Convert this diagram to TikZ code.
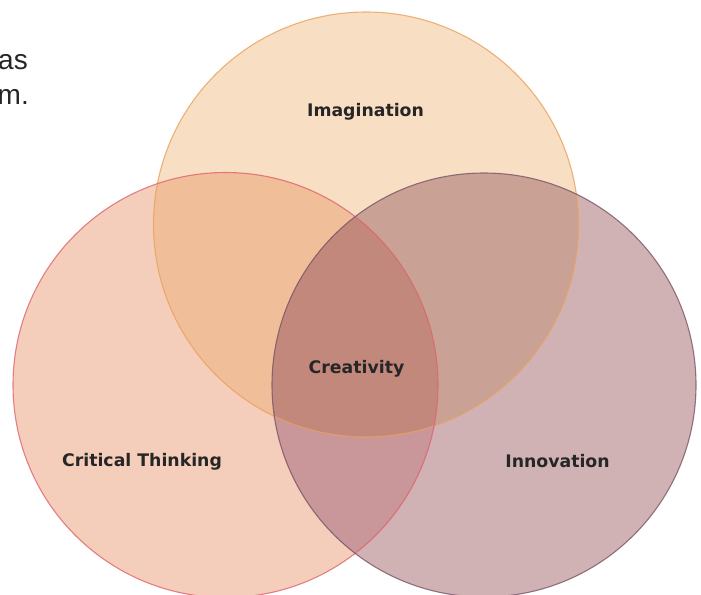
\documentclass[tikz,border=0pt]{standalone}
\usepackage{fontspec}
\setmainfont{Liberation Sans}
\newfontfamily\labelfont{DejaVu Sans}
\definecolor{imgfill}{HTML}{F8DFC3}
\definecolor{imgline}{HTML}{E9A15F}
\definecolor{critfill}{HTML}{F4CEBB}
\definecolor{critline}{HTML}{E0636E}
\definecolor{innofill}{HTML}{D0B2B5}
\definecolor{innoline}{HTML}{7A5566}
\definecolor{ciover}{HTML}{F0BE98}
\definecolor{inover}{HTML}{C9A295}
\definecolor{cnover}{HTML}{C99699}
\definecolor{allover}{HTML}{C2887C}
\definecolor{labelgray}{HTML}{262626}
\newcommand\imgdisc{(366,224.5) circle[radius=212.5]}
\newcommand\critdisc{(225.5,385) circle[radius=212.5]}
\newcommand\innodisc{(484,385) circle[radius=212]}
\tikzset{
  venntext/.style={font=\labelfont\bfseries\fontsize{17.3}{20}\selectfont, text=labelgray, anchor=base, inner sep=0pt},
  bodytext/.style={font=\fontsize{28}{34}\selectfont, text=black!85, anchor=base east, inner sep=0pt},
  rim/.style={line width=1.1pt, draw opacity=0.8}
}
\begin{document}
\begin{tikzpicture}[x=1pt,y=-1pt]
\useasboundingbox (0,0) rectangle (701,594);
\clip (0,0) rectangle (701,594);
% fragment of surrounding paragraph
\node[bodytext] (line1) at (28,69.5) {as};
\node[bodytext] (line2) at (29,104.5) {m.};
% single discs
\fill[imgfill] \imgdisc;
\fill[critfill] \critdisc;
\fill[innofill] \innodisc;
% pairwise overlaps
\begin{scope}
  \clip \imgdisc;
  \fill[ciover] \critdisc;
  \fill[inover] \innodisc;
\end{scope}
\begin{scope}
  \clip \critdisc;
  \fill[cnover] \innodisc;
\end{scope}
% common centre
\begin{scope}
  \clip \imgdisc;
  \clip \critdisc;
  \fill[allover] \innodisc;
\end{scope}
% outlines
\draw[rim, imgline] \imgdisc;
\draw[rim, critline] \critdisc;
\draw[rim, innoline] \innodisc;
% labels
\node[venntext] (imagination) at (365.5,116) {Imagination};
\node[venntext] (creativity) at (356.5,373) {Creativity};
\node[venntext] (critical) at (142,466.5) {Critical Thinking};
\node[venntext] (innovation) at (557.5,467) {Innovation};
\end{tikzpicture}
\end{document}
